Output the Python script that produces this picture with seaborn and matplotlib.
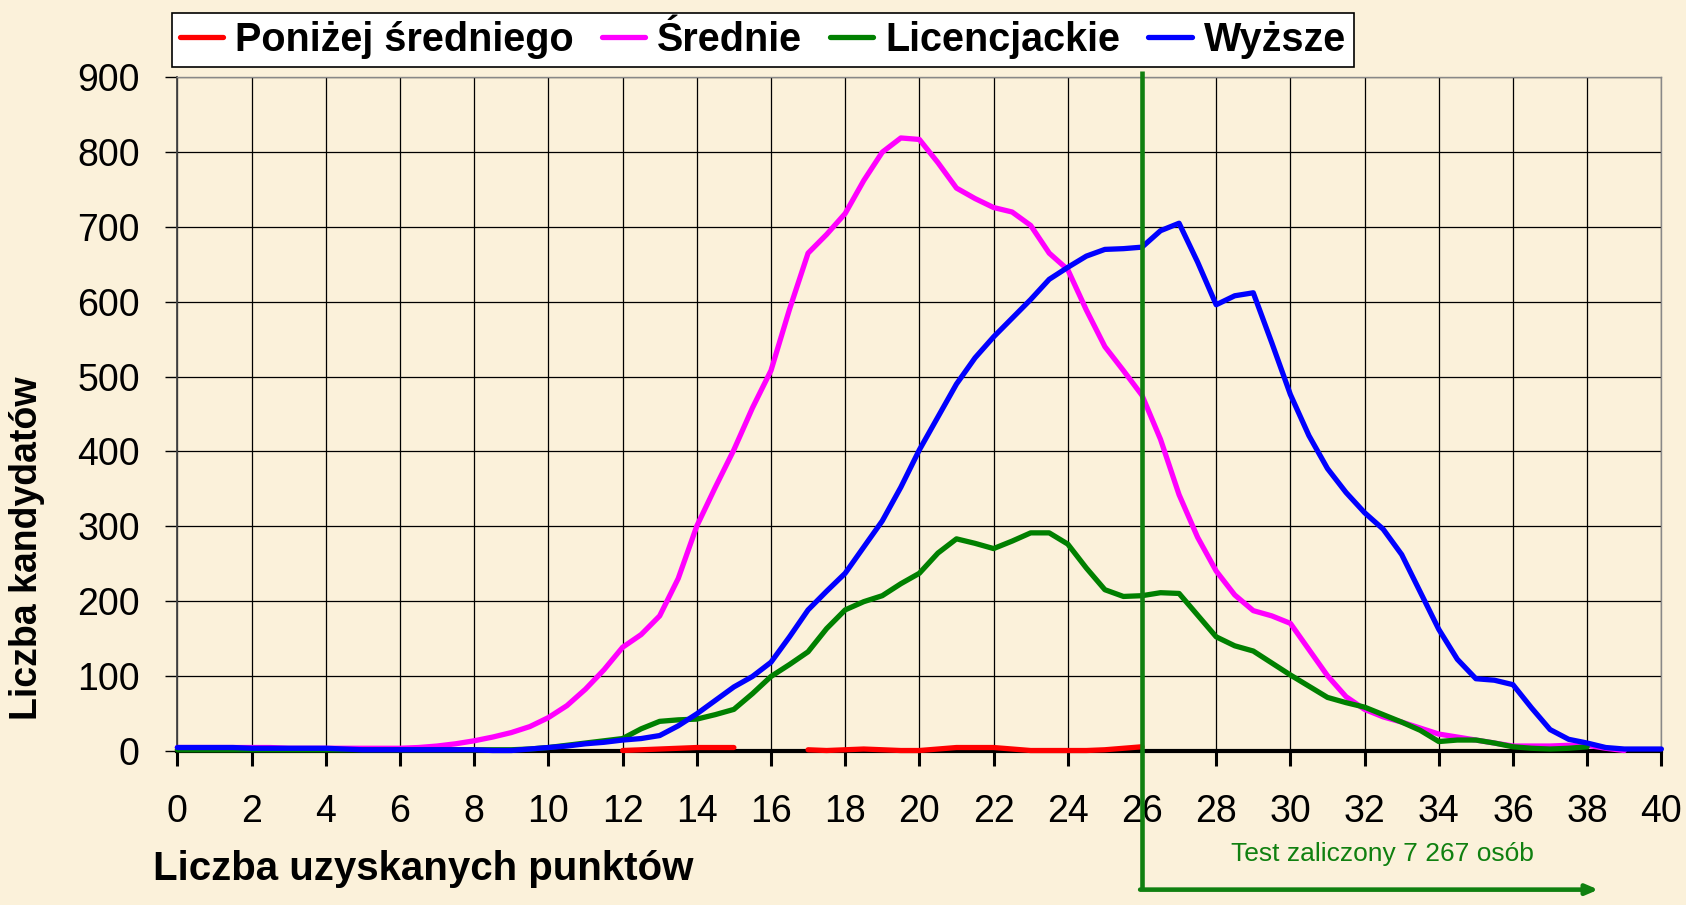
import numpy as np
import pandas as pd
import matplotlib
matplotlib.use("Agg")
import matplotlib.pyplot as plt
from matplotlib.lines import Line2D
import seaborn as sns

# --- dane (krok 0,5 punktu) ---
punkty = [i / 2 for i in range(81)]

ponizej_sredniego = [
    None, None, None, None, None, None, None, None, None, None,
    None, None, None, None, None, None, None, None, None, None,
    None, None, None, None, 0, 1, 2, 3, 4, 4,
    4, None, None, None, 1, 0, 1, 2, 1, 0,
    0, 2, 4, 4, 4, 2, 0, 0, 0, 0,
    1, 3, 5, None, None, None, None, None, None, None,
    None, None, None, None, None, None, None, None, None, None,
    None, None, None, None, None, None, None, None, None, None,
    None,
]
srednie = [
    4, 4, 4, 4, 4, 4, 3, 3, 3, 3,
    3, 3, 3, 4, 6, 9, 13, 18, 24, 32,
    44, 60, 82, 108, 138, 155, 180, 230, 300, 352,
    402, 458, 508, 590, 665, 690, 718, 762, 800, 819,
    817, 786, 752, 738, 726, 720, 702, 665, 643, 589,
    540, 508, 475, 416, 342, 285, 240, 208, 187, 180,
    170, 135, 100, 72, 55, 45, 38, 30, 22, 18,
    14, 10, 6, 6, 6, 7, 7, 3, 0, None,
    None,
]
licencjackie = [
    1, 1, 1, 1, 1, 1, 1, 1, 1, 1,
    1, 1, 1, 1, 1, 1, 1, 1, 1, 2,
    4, 7, 10, 13, 16, 29, 39, 41, 42, 48,
    55, 76, 99, 115, 132, 163, 188, 199, 207, 223,
    237, 264, 283, 277, 270, 280, 291, 291, 276, 244,
    215, 206, 207, 211, 210, 181, 152, 140, 133, 117,
    101, 86, 71, 64, 58, 48, 38, 27, 12, 14,
    14, 10, 5, 3, 2, 3, 5, None, None, None,
    None,
]
wyzsze = [
    4, 4, 4, 4, 3, 3, 3, 3, 3, 2,
    1, 1, 1, 1, 1, 1, 1, 0, 0, 2,
    4, 6, 9, 11, 14, 16, 20, 33, 49, 67,
    85, 99, 118, 152, 188, 213, 237, 272, 307, 352,
    402, 446, 490, 525, 553, 578, 603, 630, 646, 661,
    670, 671, 673, 695, 705, 653, 596, 608, 612, 545,
    476, 421, 377, 345, 318, 296, 262, 212, 162, 122,
    96, 94, 88, 57, 28, 15, 10, 4, 2, 2,
    2,
]

grupy = ["Poniżej średniego", "Średnie", "Licencjackie", "Wyższe"]
kolory = ["#FF0000", "#FF00FF", "#008000", "#0000FF"]
prog = 26
granica_strzalki = 38.3
opis_progu = "Test zaliczony 7 267 osób"

# --- tabela długa; przerwy w serii dzielą linię na odcinki ---
wiersze = []
for grupa, seria in zip(grupy, [ponizej_sredniego, srednie, licencjackie, wyzsze]):
    odcinek = 0
    for p, v in zip(punkty, seria):
        if v is None:
            odcinek += 1
            continue
        wiersze.append({"punkty": p, "liczba": v, "grupa": grupa,
                        "odcinek": f"{grupa}-{odcinek}"})
df = pd.DataFrame(wiersze)

tlo = "#FBF1DA"
czcionka = ["Liberation Sans", "DejaVu Sans"]

fig = plt.figure(figsize=(16.86, 9.05), dpi=100, facecolor=tlo)
ax = fig.add_axes([0.1052, 0.1707, 0.8802, 0.7438])
ax.set_facecolor(tlo)

sns.lineplot(data=df, x="punkty", y="liczba", hue="grupa", units="odcinek",
             estimator=None, hue_order=grupy, palette=kolory, linewidth=3.8,
             legend=False, ax=ax, zorder=3)
for linia in ax.lines:
    linia.set_clip_on(False)
    linia.set_solid_capstyle("round")
    linia.set_solid_joinstyle("round")

ax.set_xlim(0, 40)
ax.set_ylim(0, 900)
ax.set_xticks(range(0, 41, 2))
ax.set_yticks(range(0, 901, 100))
ax.grid(True, color="black", linewidth=0.9)
ax.set_axisbelow(True)
ax.set_xlabel("")
ax.set_ylabel("")

ax.spines["bottom"].set_linewidth(3)
ax.spines["bottom"].set_color("black")
ax.spines["bottom"].set_zorder(2.5)
ax.spines["left"].set_color("#444444")
ax.spines["left"].set_linewidth(1.3)
for s in ["top", "right"]:
    ax.spines[s].set_color("#888888")
    ax.spines[s].set_linewidth(1.0)

ax.tick_params(axis="x", direction="out", length=11, width=2.2, pad=20,
               labelsize=27, colors="black")
ax.tick_params(axis="y", direction="out", length=9, width=1, pad=18,
               labelsize=27, colors="black")
for t in ax.get_xticklabels() + ax.get_yticklabels():
    t.set_family(czcionka)

# próg zaliczenia i strzałka
ax.plot([prog, prog], [909, -186], color="#108010", linewidth=3.3,
        clip_on=False, zorder=4, solid_capstyle="butt")
ax.annotate("", xy=(granica_strzalki, -186), xytext=(prog - 0.05, -186),
            xycoords="data", annotation_clip=False,
            arrowprops=dict(arrowstyle="-|>,head_length=0.7,head_width=0.3",
                            color="#108010", linewidth=3.3, shrinkA=0, shrinkB=0))
ax.text(32.47, -139, opis_progu, color="#108010", fontsize=19, family=czcionka,
        ha="center", va="center", clip_on=False)

fig.text(0.251, 0.040, "Liczba uzyskanych punktów", fontsize=29, fontweight="bold",
         family=czcionka, ha="center", va="center")
fig.text(0.016, 0.394, "Liczba kandydatów", fontsize=27, fontweight="bold",
         family=czcionka, ha="center", va="center", rotation=90)

uchwyty = [Line2D([0], [0], color=k, linewidth=3.8, solid_capstyle="round") for k in kolory]
leg = fig.legend(uchwyty, grupy, loc="upper left",
                 bbox_to_anchor=(172 / 1686, 1 - 13 / 905), borderaxespad=0,
                 ncol=4, frameon=True, fancybox=False, edgecolor="black",
                 framealpha=1, facecolor="white", handlelength=1.1,
                 handletextpad=0.3, columnspacing=0.7, borderpad=0.2,
                 prop=dict(family=czcionka, weight="bold", size=28.5))
leg.get_frame().set_linewidth(1.2)

fig.savefig("out.png", dpi=100, facecolor=tlo)
